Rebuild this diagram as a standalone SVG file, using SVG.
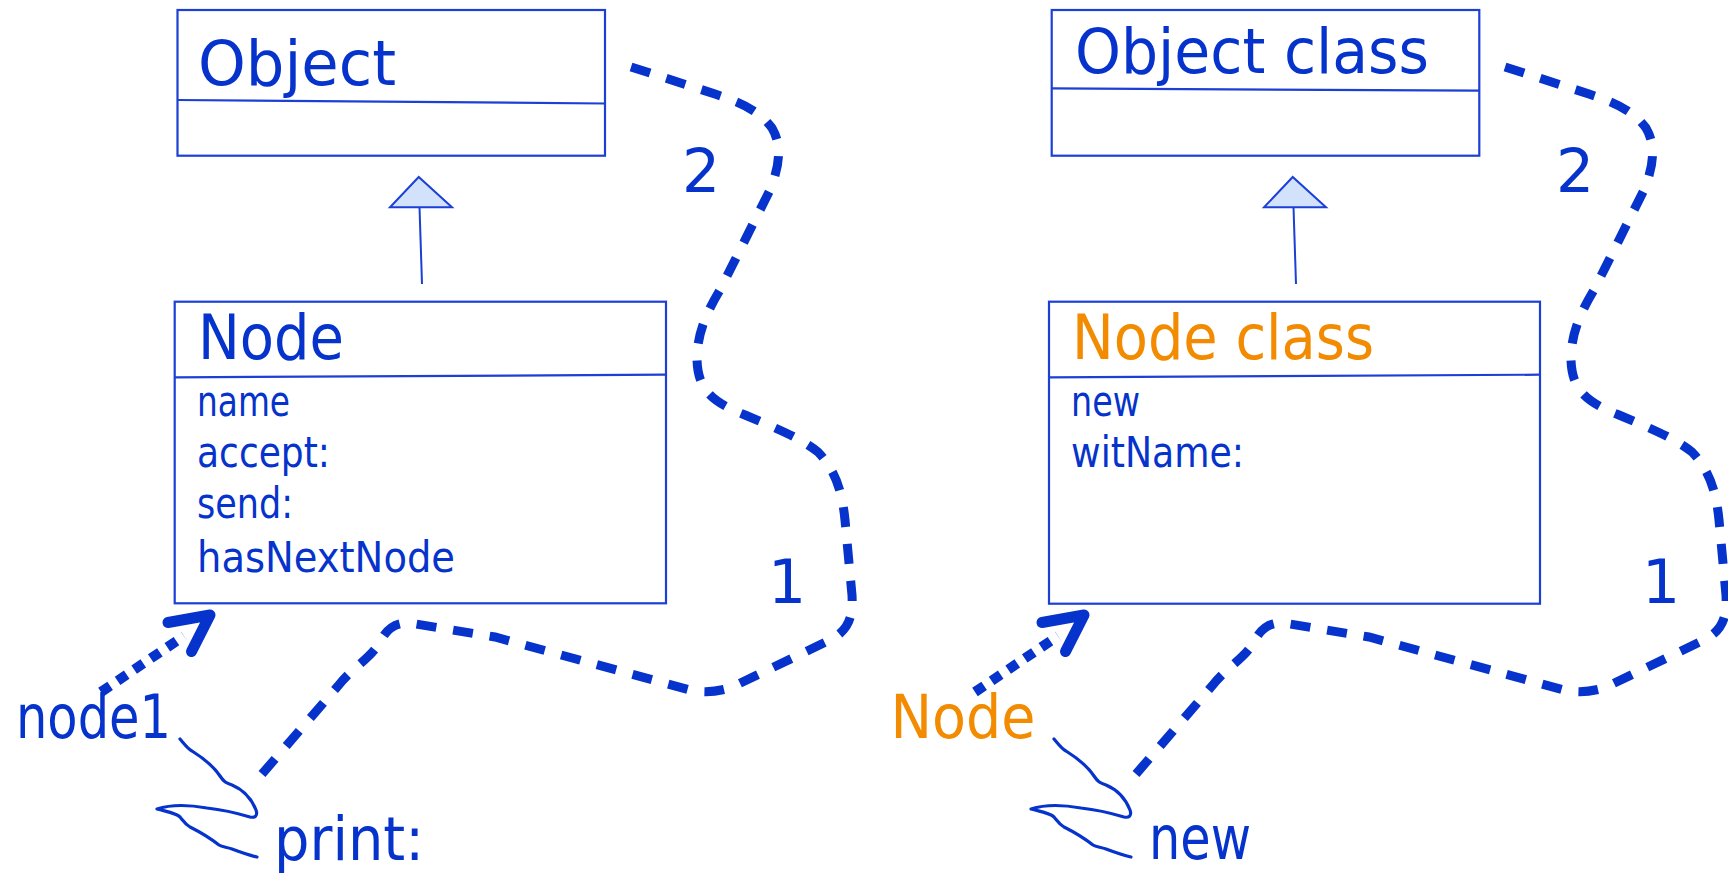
<svg xmlns="http://www.w3.org/2000/svg" width="1728" height="877" viewBox="0 0 1728 877">
  <defs>
    <style>
      .box { fill: #ffffff; stroke: #1c3fd6; stroke-width: 2.2; }
      .div { fill: none; stroke: #1c3fd6; stroke-width: 2.2; }
      .tri { fill: #d3e2fb; stroke: #1c3fd6; stroke-width: 2; stroke-linejoin: miter; }
      .gen { fill: none; stroke: #1c3fd6; stroke-width: 2; }
      .txt { font-family: "Comic Sans MS", "DejaVu Sans", sans-serif; fill: #0533cc; }
      .org { fill: #f28b00; }
      .title { font-size: 62px; }
      .member { font-size: 42px; }
      .label { font-size: 60px; }
      .route { fill: none; stroke: #0533cc; stroke-width: 9; stroke-dasharray: 20 17; }
      .dots { fill: none; stroke: #0533cc; stroke-width: 10; stroke-dasharray: 11 9; }
      .head { fill: none; stroke: #0533cc; stroke-width: 11; stroke-linecap: round; stroke-linejoin: round; }
      .squig { fill: none; stroke: #0533cc; stroke-width: 3.2; stroke-linecap: round; stroke-linejoin: round; }
    </style>
    <path id="route" d="M 262,774 L 338,686 C 352,668 368,660 378,645 C 385,632 392,622 410,623 L 495,637 L 690,690 C 705,693 715,692 730,688 L 830,640 C 850,630 853,615 852,595 L 845,520 C 842,490 835,470 818,452 C 800,438 780,430 745,415 C 712,402 698,390 697,360 C 697,335 705,315 720,290 L 770,190 C 780,165 782,145 772,128 C 760,112 745,104 715,94 L 622,64"/>
    <path id="squiggle" d="M180,739 C186,746 188,749 192,751 C200,756 212,764 220,776 C224,782 226,783 232,785 C244,790 252,800 256,810 C258,816 255,818 250,817 C240,814 225,810 207,808 C190,805 172,804 157,809 C168,812 176,813 180,817 C184,822 185,824 190,827 C200,832 210,838 219,845 C222,847 226,847 232,849 C240,852 248,855 257,857"/>
  </defs>

  <rect width="1728" height="877" fill="#ffffff"/>

  <!-- connectors: generalization lines, message routes, reference arrows -->
  <g id="connectors">
    <line class="gen" x1="419.5" y1="207" x2="422" y2="284"/>
    <polygon class="tri" points="418.7,177 390,207.3 452,207.3"/>
    <line class="gen" x1="1293.5" y1="207" x2="1296" y2="284"/>
    <polygon class="tri" points="1292.7,177 1264,207.3 1326,207.3"/>

    <use href="#route" class="route"/>
    <use href="#route" class="route" transform="translate(874,0)"/>

    <path class="dots" d="M 101,692 L 184,636"/>
    <path class="head" d="M 168,622.5 L 210,615 L 191.5,651.5"/>
    <path class="dots" d="M 975,692 L 1058,636"/>
    <path class="head" d="M 1042,622.5 L 1084,615 L 1065.5,651.5"/>

    <use href="#squiggle" class="squig"/>
    <use href="#squiggle" class="squig" transform="translate(874,0)"/>

    <text class="txt label" x="701" y="192" text-anchor="middle">2</text>
    <text class="txt label" x="787" y="603" text-anchor="middle">1</text>
    <text class="txt label" x="1575" y="192" text-anchor="middle">2</text>
    <text class="txt label" x="1661" y="603" text-anchor="middle">1</text>
  </g>

  <!-- left side: instance view -->
  <g id="object">
    <rect class="box" x="177.5" y="10" width="427.5" height="145.7"/>
    <line class="div" x1="177.5" y1="100" x2="605" y2="103.5"/>
    <text class="txt title" x="198" y="85" textLength="198" lengthAdjust="spacingAndGlyphs">Object</text>
  </g>

  <g id="node">
    <rect class="box" x="174.7" y="301.7" width="491.3" height="301.6"/>
    <line class="div" x1="174.7" y1="377.3" x2="666" y2="374.7"/>
    <text class="txt title" x="198" y="359" textLength="146" lengthAdjust="spacingAndGlyphs">Node</text>
    <text class="txt member" x="197" y="416" textLength="93" lengthAdjust="spacingAndGlyphs">name</text>
    <text class="txt member" x="197" y="467" textLength="133" lengthAdjust="spacingAndGlyphs">accept:</text>
    <text class="txt member" x="197" y="518" textLength="96" lengthAdjust="spacingAndGlyphs">send:</text>
    <text class="txt member" x="197" y="572" textLength="258" lengthAdjust="spacingAndGlyphs">hasNextNode</text>
  </g>

  <g id="node1">
    <text class="txt label" x="16" y="738" textLength="155" lengthAdjust="spacingAndGlyphs">node1</text>
  </g>

  <g id="print">
    <text class="txt label" x="274" y="860" textLength="150" lengthAdjust="spacingAndGlyphs">print:</text>
  </g>

  <!-- right side: class view -->
  <g id="object-class">
    <rect class="box" x="1051.7" y="10" width="427.6" height="145.7"/>
    <line class="div" x1="1051.7" y1="88.3" x2="1479.3" y2="90.7"/>
    <text class="txt title" x="1075" y="72.7" textLength="354" lengthAdjust="spacingAndGlyphs">Object class</text>
  </g>

  <g id="node-class">
    <rect class="box" x="1049" y="301.7" width="491" height="302"/>
    <line class="div" x1="1049" y1="377.3" x2="1540" y2="374.7"/>
    <text class="txt title org" x="1072" y="359" textLength="302" lengthAdjust="spacingAndGlyphs">Node class</text>
    <text class="txt member" x="1071" y="416" textLength="69" lengthAdjust="spacingAndGlyphs">new</text>
    <text class="txt member" x="1071" y="467" textLength="173" lengthAdjust="spacingAndGlyphs">witName:</text>
  </g>

  <g id="node-ref">
    <text class="txt label org" x="890.5" y="738" textLength="145" lengthAdjust="spacingAndGlyphs">Node</text>
  </g>

  <g id="new">
    <text class="txt label" x="1149" y="859" textLength="102" lengthAdjust="spacingAndGlyphs">new</text>
  </g>
</svg>
